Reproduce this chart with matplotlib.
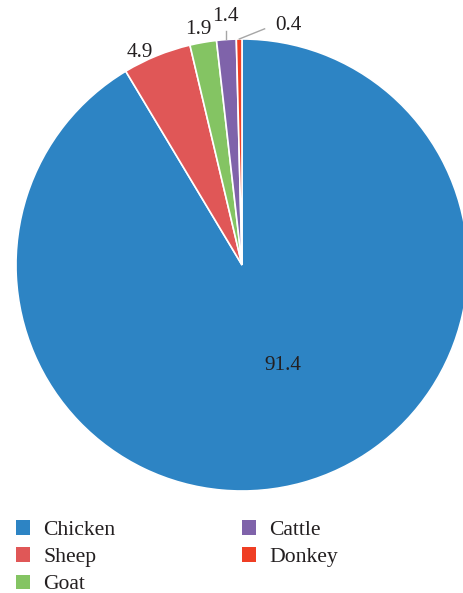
import numpy as np
import matplotlib.pyplot as plt
from matplotlib.patches import Patch

categories = ['Chicken', 'Sheep', 'Goat', 'Cattle', 'Donkey']
values = [91.4, 4.9, 1.9, 1.4, 0.4]
colors = ['#2d84c4', '#e05757', '#84c463', '#7f63aa', '#ef3e24']

# label positions (axes data units, pie radius = 1)
label_pos = [(0.179, -0.445), (-0.451, 0.94), (-0.195, 1.043), (-0.075, 1.10), (0.204, 1.061)]
# leader lines: start point, end point
leaders = [None, None, None, ((-0.069, 1.0), (-0.069, 1.035)), ((-0.012, 1.0), (0.10, 1.045))]

plt.rcParams['font.family'] = ['Liberation Serif', 'DejaVu Serif']
text_color = '#231f20'

fig = plt.figure(figsize=(4.64, 5.93), dpi=100)
W, H = 464, 593
cx, cy, r = 242, 265, 226
ax = fig.add_axes([(cx - r) / W, (H - cy - r) / H, 2 * r / W, 2 * r / H])

wedges, _ = ax.pie(values, colors=colors, startangle=90, counterclock=False,
                   radius=1, wedgeprops=dict(edgecolor='white', linewidth=1.2))
ax.set_xlim(-1, 1)
ax.set_ylim(-1, 1)
ax.set_aspect('equal')
ax.axis('off')

for v, (x, y), ld in zip(values, label_pos, leaders):
    ax.text(x, y, f'{v:.1f}', ha='center', va='center', fontsize=15.2,
            color=text_color, clip_on=False)
    if ld is not None:
        (x0, y0), (x1, y1) = ld
        ax.plot([x0, x1], [y0, y1], color='#a6a6a6', linewidth=1, clip_on=False)

handles = [Patch(facecolor=c, edgecolor='none') for c in colors]
fig.legend(handles, categories, loc='upper left', bbox_to_anchor=(16 / W, 1 - 520 / H),
           ncol=2, frameon=False, fontsize=15.6, handlelength=0.66, handleheight=0.66,
           handletextpad=0.6, columnspacing=5.85, labelspacing=0.34, borderpad=0,
           borderaxespad=0, labelcolor=text_color)

fig.savefig('out.png', dpi=100)
